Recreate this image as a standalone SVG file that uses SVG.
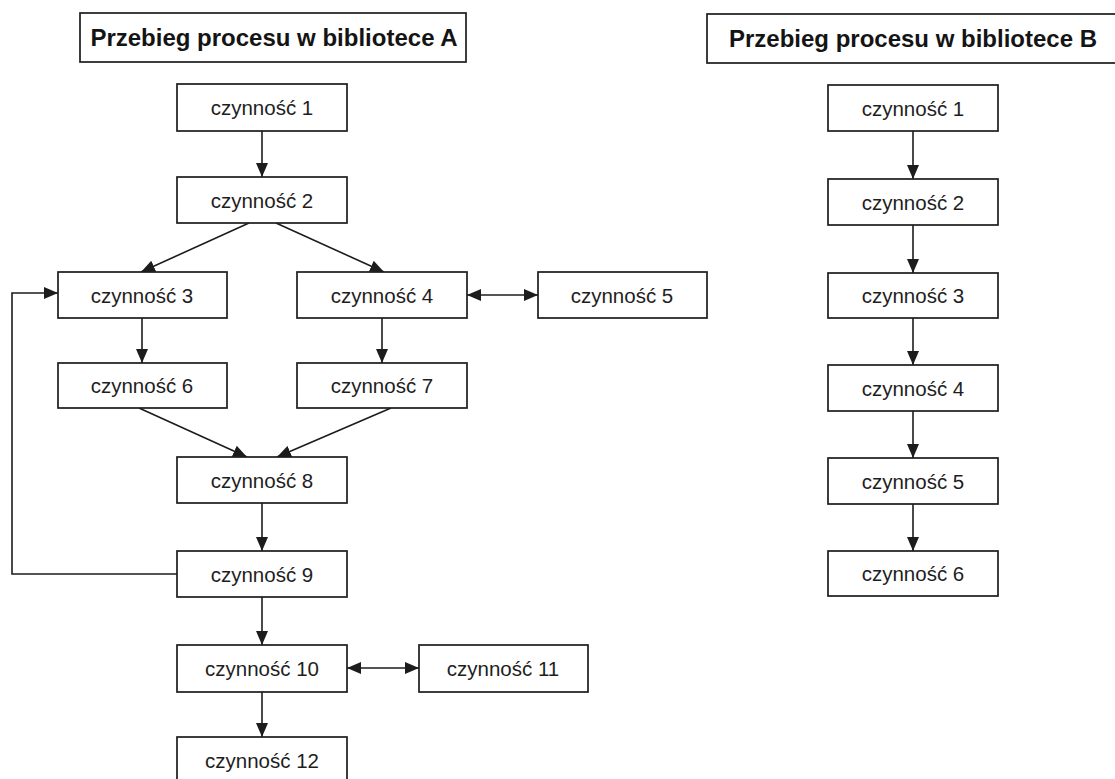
<svg xmlns="http://www.w3.org/2000/svg" width="1115" height="779" viewBox="0 0 1115 779">
  <style>
    .box { fill: #ffffff; stroke: #1c1c1c; stroke-width: 1.7; }
    .lbl { font-family: "Liberation Sans", Arial, sans-serif; font-size: 20.5px; fill: #1e1e1e; text-anchor: middle; }
    .ttl { font-family: "Liberation Sans", Arial, sans-serif; font-size: 24px; font-weight: bold; fill: #141414; text-anchor: middle; }
    .edge { fill: none; stroke: #1c1c1c; stroke-width: 1.6; }
  </style>
  <defs>
    <marker id="arr" viewBox="0 0 14 12" refX="14" refY="6" markerWidth="14" markerHeight="12" markerUnits="userSpaceOnUse" orient="auto-start-reverse">
      <path d="M0,0 L14,6 L0,12 Z" fill="#1c1c1c"/>
    </marker>
  </defs>
  <rect width="1115" height="779" fill="#ffffff"/>

  <!-- section headers -->
  <g id="title-a">
    <rect class="box" x="80" y="13" width="386" height="49"/>
    <text class="ttl" x="274" y="46">Przebieg procesu w bibliotece A</text>
  </g>
  <g id="title-b">
    <rect class="box" x="707" y="14" width="412" height="49"/>
    <text class="ttl" x="913" y="47">Przebieg procesu w bibliotece B</text>
  </g>

  <!-- connectors -->
  <g id="connectors">
    <!-- library A -->
    <line class="edge" x1="262" y1="131" x2="262" y2="177" marker-end="url(#arr)"/>
    <line class="edge" x1="249" y1="223" x2="141" y2="272" marker-end="url(#arr)"/>
    <line class="edge" x1="276" y1="223" x2="384" y2="272" marker-end="url(#arr)"/>
    <line class="edge" x1="142" y1="318" x2="142" y2="363" marker-end="url(#arr)"/>
    <line class="edge" x1="382" y1="318" x2="382" y2="363" marker-end="url(#arr)"/>
    <line class="edge" x1="467" y1="295" x2="538" y2="295" marker-start="url(#arr)" marker-end="url(#arr)"/>
    <line class="edge" x1="139" y1="408" x2="247" y2="457" marker-end="url(#arr)"/>
    <line class="edge" x1="391" y1="408" x2="277" y2="457" marker-end="url(#arr)"/>
    <line class="edge" x1="262" y1="503" x2="262" y2="551" marker-end="url(#arr)"/>
    <polyline class="edge" points="177,574 12,574 12,293 58,293" marker-end="url(#arr)"/>
    <line class="edge" x1="262" y1="597" x2="262" y2="645" marker-end="url(#arr)"/>
    <line class="edge" x1="347" y1="668" x2="419" y2="668" marker-start="url(#arr)" marker-end="url(#arr)"/>
    <line class="edge" x1="262" y1="692" x2="262" y2="737" marker-end="url(#arr)"/>
    <!-- library B -->
    <line class="edge" x1="913" y1="131" x2="913" y2="179" marker-end="url(#arr)"/>
    <line class="edge" x1="913" y1="225" x2="913" y2="273" marker-end="url(#arr)"/>
    <line class="edge" x1="913" y1="318" x2="913" y2="365" marker-end="url(#arr)"/>
    <line class="edge" x1="913" y1="411" x2="913" y2="458" marker-end="url(#arr)"/>
    <line class="edge" x1="913" y1="504" x2="913" y2="551" marker-end="url(#arr)"/>
  </g>

  <!-- library A steps -->
  <g id="a1"><rect class="box" x="177" y="84" width="170" height="47"/><text class="lbl" x="262" y="115">czynność 1</text></g>
  <g id="a2"><rect class="box" x="177" y="177" width="170" height="46"/><text class="lbl" x="262" y="208">czynność 2</text></g>
  <g id="a3"><rect class="box" x="58" y="272" width="169" height="46"/><text class="lbl" x="142" y="303">czynność 3</text></g>
  <g id="a4"><rect class="box" x="297" y="272" width="170" height="46"/><text class="lbl" x="382" y="303">czynność 4</text></g>
  <g id="a5"><rect class="box" x="538" y="272" width="169" height="46"/><text class="lbl" x="622" y="303">czynność 5</text></g>
  <g id="a6"><rect class="box" x="58" y="363" width="169" height="45"/><text class="lbl" x="142" y="393">czynność 6</text></g>
  <g id="a7"><rect class="box" x="297" y="363" width="170" height="45"/><text class="lbl" x="382" y="393">czynność 7</text></g>
  <g id="a8"><rect class="box" x="177" y="457" width="170" height="46"/><text class="lbl" x="262" y="488">czynność 8</text></g>
  <g id="a9"><rect class="box" x="177" y="551" width="170" height="46"/><text class="lbl" x="262" y="582">czynność 9</text></g>
  <g id="a10"><rect class="box" x="177" y="645" width="170" height="47"/><text class="lbl" x="262" y="676">czynność 10</text></g>
  <g id="a11"><rect class="box" x="419" y="645" width="169" height="47"/><text class="lbl" x="503" y="676">czynność 11</text></g>
  <g id="a12"><rect class="box" x="177" y="737" width="170" height="46"/><text class="lbl" x="262" y="768">czynność 12</text></g>

  <!-- library B steps -->
  <g id="b1"><rect class="box" x="828" y="85" width="170" height="46"/><text class="lbl" x="913" y="116">czynność 1</text></g>
  <g id="b2"><rect class="box" x="828" y="179" width="170" height="46"/><text class="lbl" x="913" y="210">czynność 2</text></g>
  <g id="b3"><rect class="box" x="828" y="273" width="170" height="45"/><text class="lbl" x="913" y="303">czynność 3</text></g>
  <g id="b4"><rect class="box" x="828" y="365" width="170" height="46"/><text class="lbl" x="913" y="396">czynność 4</text></g>
  <g id="b5"><rect class="box" x="828" y="458" width="170" height="46"/><text class="lbl" x="913" y="489">czynność 5</text></g>
  <g id="b6"><rect class="box" x="828" y="551" width="170" height="45"/><text class="lbl" x="913" y="581">czynność 6</text></g>
</svg>
